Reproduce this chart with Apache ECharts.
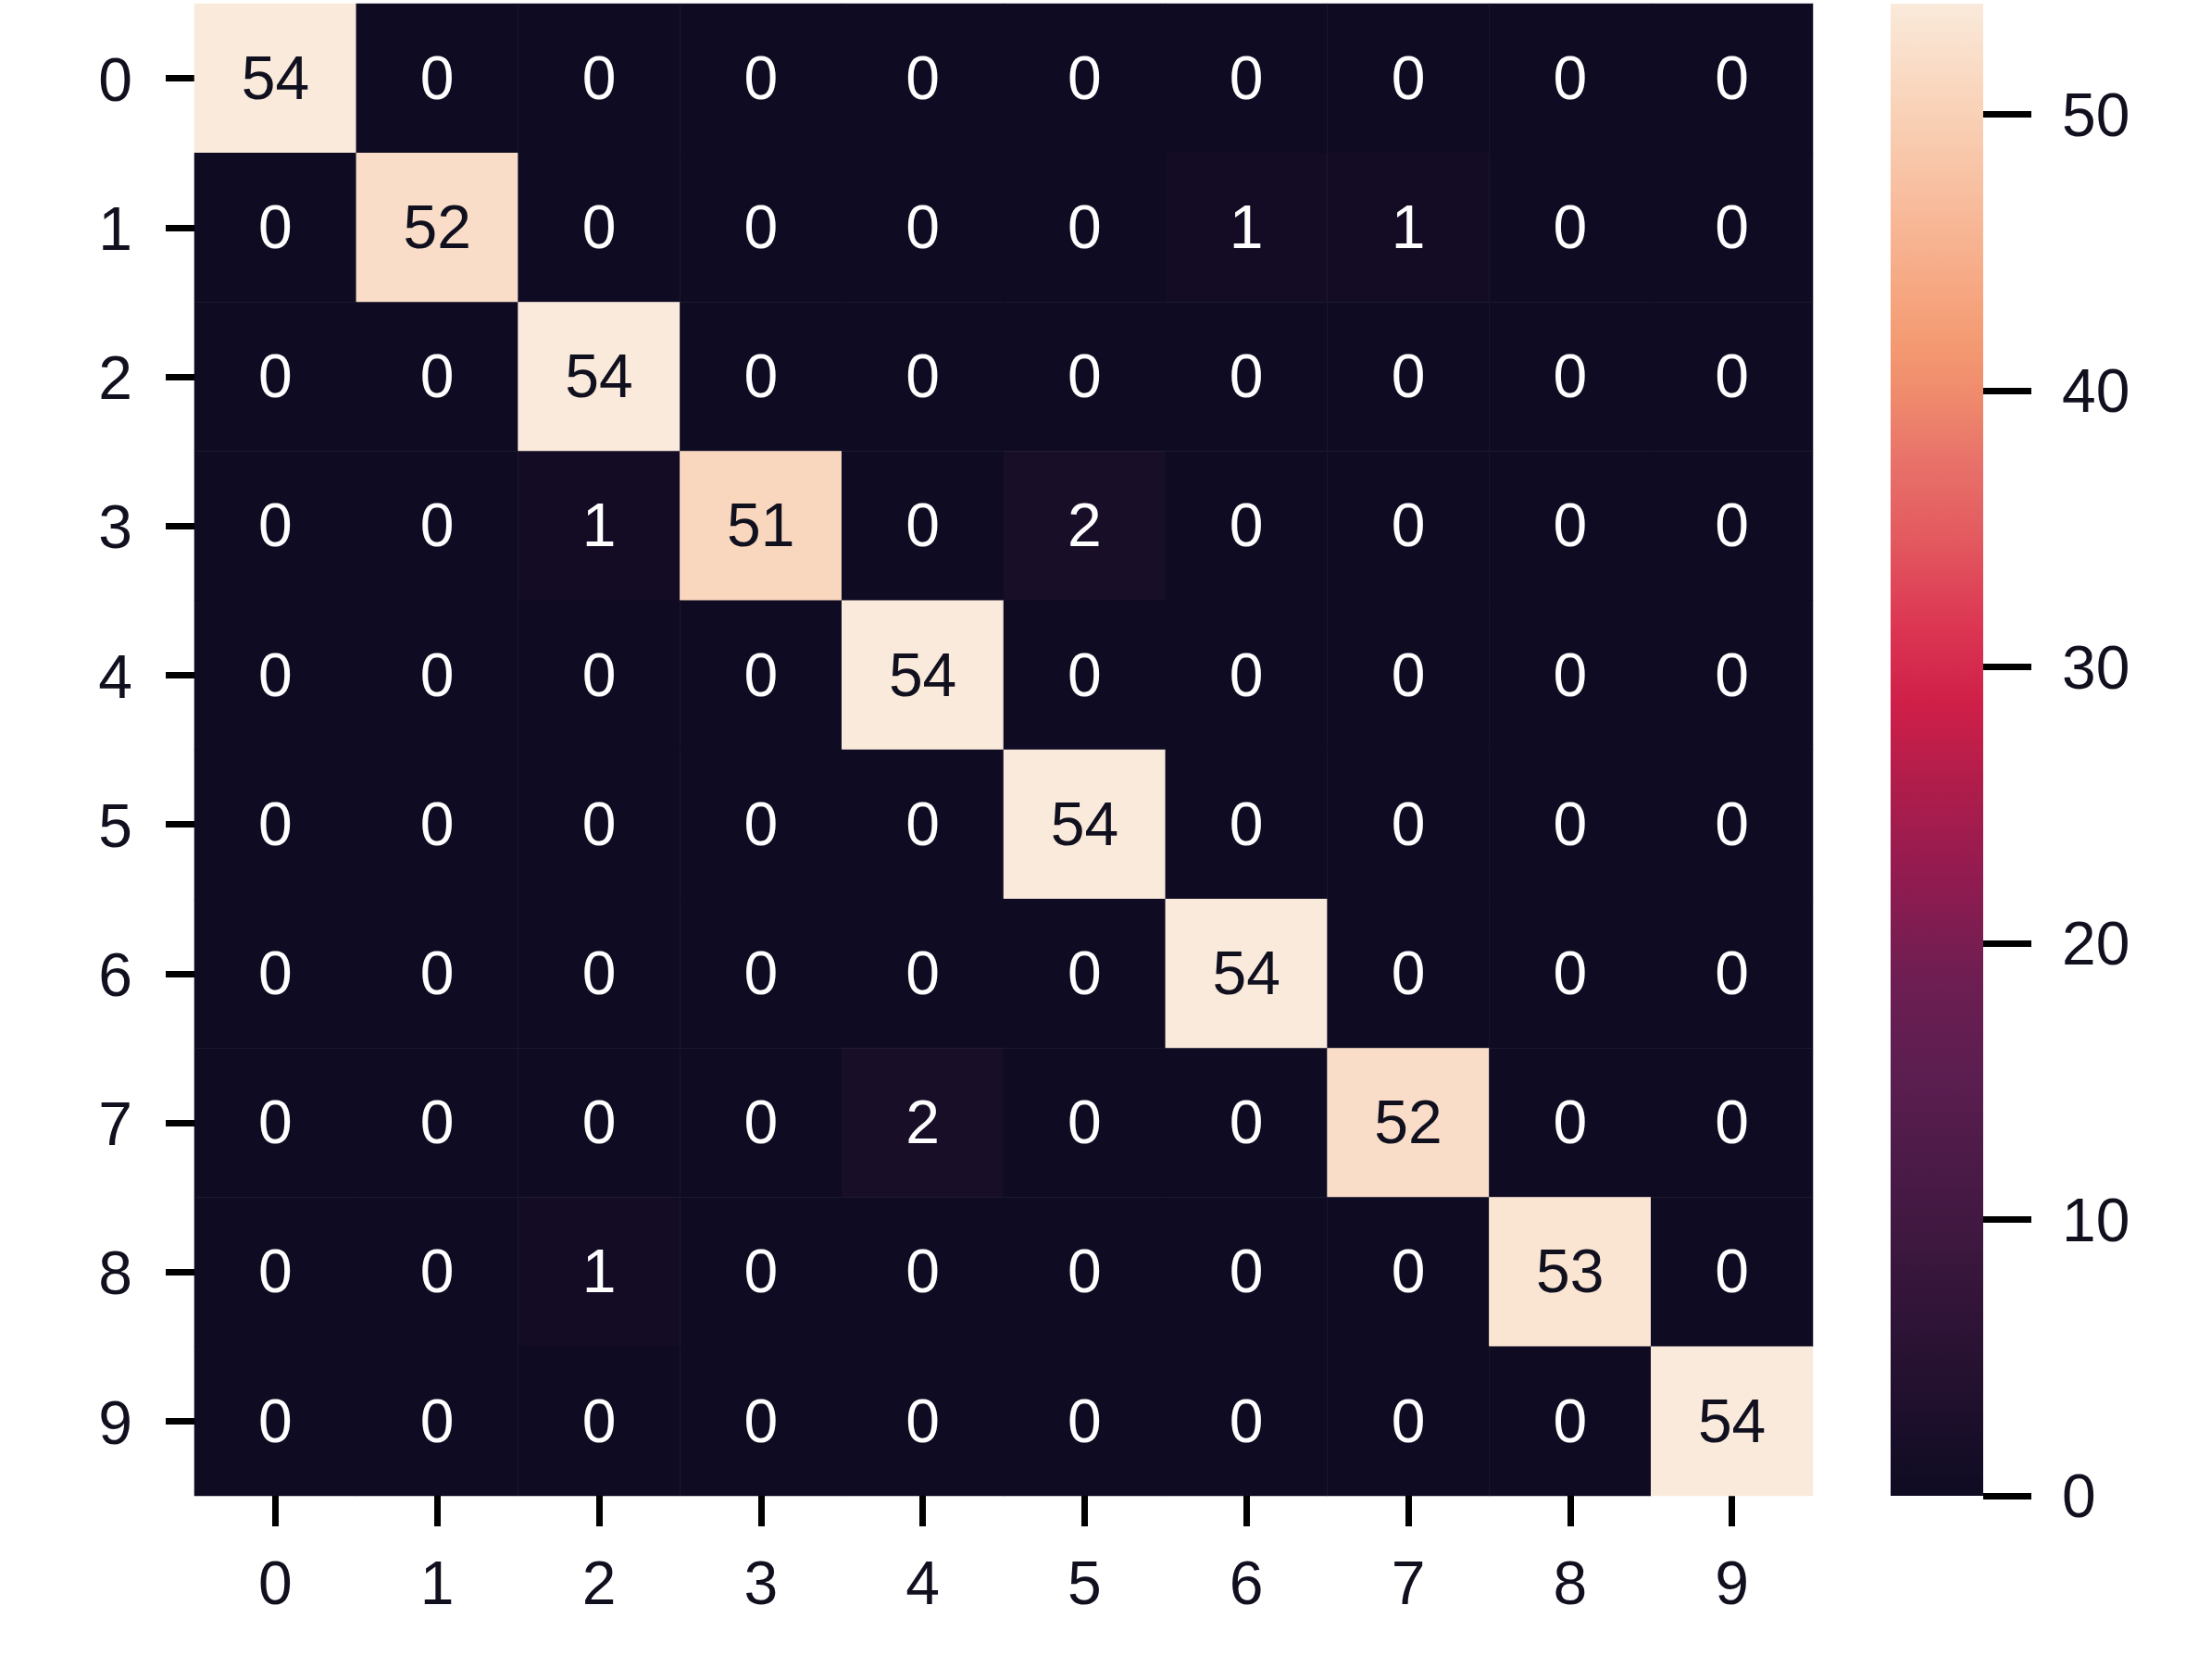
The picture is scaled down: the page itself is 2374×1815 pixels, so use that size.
<!DOCTYPE html>
<html>
<head>
<meta charset="utf-8">
<script src="https://cdn.jsdelivr.net/npm/echarts@6/dist/echarts.min.js"></script>
<style>
html,body{margin:0;padding:0;background:#fff;}
#chart{width:2374px;height:1815px;}
</style>
</head>
<body>
<div id="chart"></div>
<script>
const xLabels = ['0','1','2','3','4','5','6','7','8','9'];
const yLabels = ['0','1','2','3','4','5','6','7','8','9'];
const row0 = [54,0,0,0,0,0,0,0,0,0];
const row1 = [0,52,0,0,0,0,1,1,0,0];
const row2 = [0,0,54,0,0,0,0,0,0,0];
const row3 = [0,0,1,51,0,2,0,0,0,0];
const row4 = [0,0,0,0,54,0,0,0,0,0];
const row5 = [0,0,0,0,0,54,0,0,0,0];
const row6 = [0,0,0,0,0,0,54,0,0,0];
const row7 = [0,0,0,0,2,0,0,52,0,0];
const row8 = [0,0,1,0,0,0,0,0,53,0];
const row9 = [0,0,0,0,0,0,0,0,0,54];
const colorbarTicks = [0,10,20,30,40,50];
const vMin = 0, vMax = 54;

const rows = [row0,row1,row2,row3,row4,row5,row6,row7,row8,row9];
// rocket-like colormap stops (position, color) as seen in the reference colorbar
const cmapStops = [
  [0.000,'#0e0b22'],[0.176,'#3f1840'],[0.283,'#5c1e50'],[0.350,'#6f1e52'],
  [0.414,'#911b50'],[0.479,'#b11d4b'],[0.531,'#cf1f48'],[0.583,'#dc3653'],
  [0.642,'#e35a5f'],[0.694,'#e8726a'],[0.736,'#ef8a6c'],[0.772,'#f49a72'],
  [0.805,'#f6a680'],[0.870,'#f8bd9e'],[0.935,'#f9d4ba'],[1.000,'#faeadb']
];
const textDark = '#10101f';
const font = "'Liberation Sans', Arial, sans-serif";

function hexToRgb(h){ return [parseInt(h.slice(1,3),16),parseInt(h.slice(3,5),16),parseInt(h.slice(5,7),16)]; }
function cmapAt(t){
  for (let i = 1; i < cmapStops.length; i++) {
    if (t <= cmapStops[i][0]) {
      const [p0,c0] = cmapStops[i-1], [p1,c1] = cmapStops[i];
      const f = (t - p0) / (p1 - p0), a = hexToRgb(c0), b = hexToRgb(c1);
      return 'rgb(' + a.map((v,k) => Math.round(v + (b[k]-v)*f)).join(',') + ')';
    }
  }
  return cmapStops[cmapStops.length-1][1];
}
const nColors = 101;
const rangeColors = Array.from({length: nColors}, (_, i) => cmapAt(i / (nColors - 1)));

const data = [];
rows.forEach((r, yi) => r.forEach((v, xi) => {
  data.push({
    value: [xi, yi, v],
    label: { color: v > vMax / 2 ? textDark : '#ffffff' }
  });
}));

const gradStops = cmapStops.map(([p, c]) => ({ offset: 1 - p, color: c })).reverse();

const chart = echarts.init(document.getElementById('chart'), null, { renderer: 'canvas' });
chart.setOption({
  animation: false,
  backgroundColor: '#ffffff',
  textStyle: { fontFamily: font },
  grid: [
    { left: 210, top: 4, width: 1748, height: 1612 },
    { left: 2042, top: 4, width: 100, height: 1612 }
  ],
  xAxis: [
    {
      gridIndex: 0, type: 'category', data: xLabels, position: 'bottom',
      axisLine: { show: false },
      axisTick: { show: true, alignWithLabel: true, length: 33, lineStyle: { color: '#000', width: 7 } },
      axisLabel: { fontSize: 66, color: textDark, margin: 66, fontFamily: font },
      splitLine: { show: false }
    },
    { gridIndex: 1, type: 'category', data: [''], show: false }
  ],
  yAxis: [
    {
      gridIndex: 0, type: 'category', data: yLabels, inverse: true,
      axisLine: { show: false },
      axisTick: { show: true, alignWithLabel: true, length: 31, lineStyle: { color: '#000', width: 7 } },
      axisLabel: { fontSize: 66, color: textDark, margin: 67, fontFamily: font, verticalAlign: 'top', lineHeight: 12 },
      splitLine: { show: false }
    },
    {
      gridIndex: 1, type: 'value', min: vMin, max: vMax, interval: 10, position: 'right',
      axisLine: { show: false },
      axisTick: { show: true, length: 52, customValues: colorbarTicks, lineStyle: { color: '#000', width: 7 } },
      axisLabel: {
        fontSize: 66, color: textDark, margin: 85, fontFamily: font, verticalAlign: 'top', lineHeight: 10,
        customValues: colorbarTicks
      },
      splitLine: { show: false }
    }
  ],
  visualMap: {
    type: 'continuous', min: vMin, max: vMax, show: false, seriesIndex: 0, dimension: 2,
    inRange: { color: rangeColors }
  },
  series: [
    {
      type: 'heatmap', xAxisIndex: 0, yAxisIndex: 0, data: data,
      label: { show: true, fontSize: 66, fontFamily: font, offset: [0, 4], formatter: p => String(p.value[2]) },
      itemStyle: { borderWidth: 0 }
    },
    {
      type: 'bar', xAxisIndex: 1, yAxisIndex: 1, data: [vMax], barWidth: '100%', silent: true,
      itemStyle: { color: new echarts.graphic.LinearGradient(0, 0, 0, 1, gradStops) }
    }
  ]
});
</script>
</body>
</html>
